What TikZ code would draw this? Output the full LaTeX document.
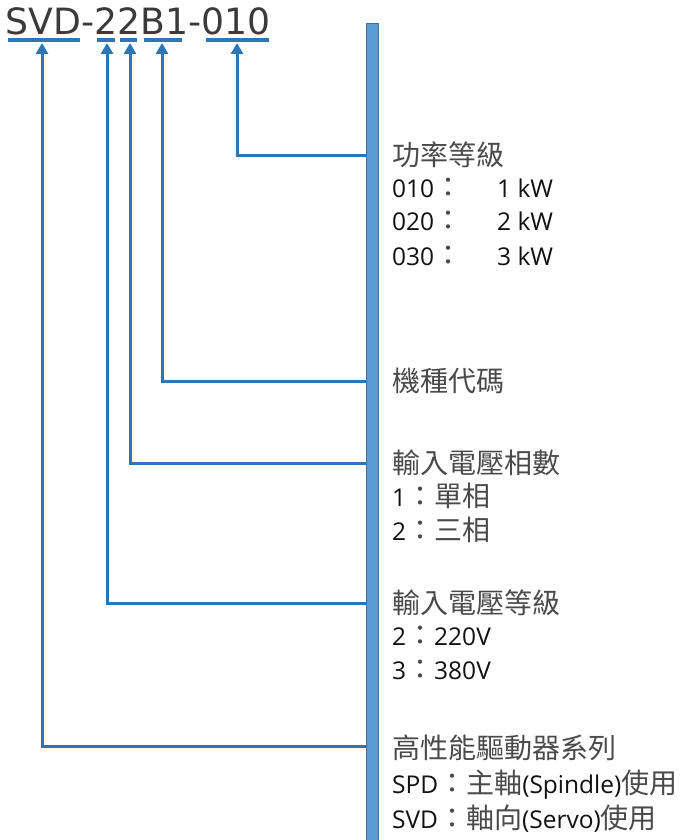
\documentclass[tikz,border=0pt]{standalone}
\usepackage{fontspec}
\setmainfont{Open Sans}
\newfontfamily\cjk{Noto Sans CJK TC}
\newfontfamily\titlefont{DejaVu Sans}
\usetikzlibrary{arrows.meta}
\definecolor{lineblue}{HTML}{2E75B6}
\definecolor{barfill}{HTML}{5B9BD5}
\definecolor{barline}{HTML}{41719C}
\definecolor{txt}{HTML}{111111}
\definecolor{cjktxt}{HTML}{4A4A4A}
\definecolor{titletxt}{HTML}{3A3A3A}
\newcommand\zh[1]{{\cjk\fontsize{28}{28}\selectfont\color{cjktxt}#1}}
\begin{document}
\begin{tikzpicture}[x=1pt,y=-1pt,
  conn/.style={draw=lineblue, line width=3pt, -{Triangle[width=12pt,length=11pt]}},
  uline/.style={draw=lineblue, line width=4pt},
  head/.style={anchor=base west, inner sep=0pt, font=\cjk\fontsize{28}{28}\selectfont, text=cjktxt},
  item/.style={anchor=base west, inner sep=0pt, font=\fontsize{24.5}{25}\selectfont, text=txt},
  barstyle/.style={draw=barline, line width=1pt, fill=barfill, anchor=north west, minimum width=12pt, minimum height=830pt, inner sep=0pt},
]
\useasboundingbox (0,0) rectangle (686,840);
% title
\node[anchor=base west, inner sep=0pt, font=\titlefont\fontsize{36.2}{36}\selectfont, text=titletxt] (title) at (5.5,35) {SVD-22B1-010};
\draw[uline] (8,40) -- (80,40);
\draw[uline] (97,40) -- (115,40);
\draw[uline] (120,40) -- (137,40);
\draw[uline] (144,40) -- (182,40);
\draw[uline] (206,40) -- (269,40);
\coordinate (u1) at (42,43);
\coordinate (u2) at (107,43);
\coordinate (u3) at (130,43);
\coordinate (u4) at (162,43);
\coordinate (u5) at (237,43);
% bar
\node[barstyle] (bar) at (366,23) {};
% texts
\node[head] (h1) at (392,165) {功率等級};
\node[item] (p1) at (392,197) {010\zh{：}};
\node[item] (v1) at (497,197) {1 kW};
\node[item] (p2) at (392,230) {020\zh{：}};
\node[item] (v2) at (497,230) {2 kW};
\node[item] (p3) at (392,265) {030\zh{：}};
\node[item] (v3) at (497,265) {3 kW};
\node[head] (h2) at (392,391) {機種代碼};
\node[head] (h3) at (392,473) {輸入電壓相數};
\node[item] (a1) at (392,506) {1\zh{：單相}};
\node[item] (a2) at (392,540) {2\zh{：三相}};
\node[head] (h4) at (392,613) {輸入電壓等級};
\node[item] (b1) at (392,645) {2\zh{：}220V};
\node[item] (b2) at (392,679) {3\zh{：}380V};
\node[head] (h5) at (392,758) {高性能驅動器系列};
\node[item] (c1) at (392,793) {SPD\zh{：主軸}(Spindle)\zh{使用}};
\node[item] (c2) at (392,828) {SVD\zh{：軸向}(Servo)\zh{使用}};
% connectors
\draw[conn] (bar.west |- 0,155) -| (u5);
\draw[conn] (bar.west |- 0,381) -| (u4);
\draw[conn] (bar.west |- 0,463) -| (u3);
\draw[conn] (bar.west |- 0,603) -| (u2);
\draw[conn] (bar.west |- 0,746) -| (u1);
\end{tikzpicture}
\end{document}
